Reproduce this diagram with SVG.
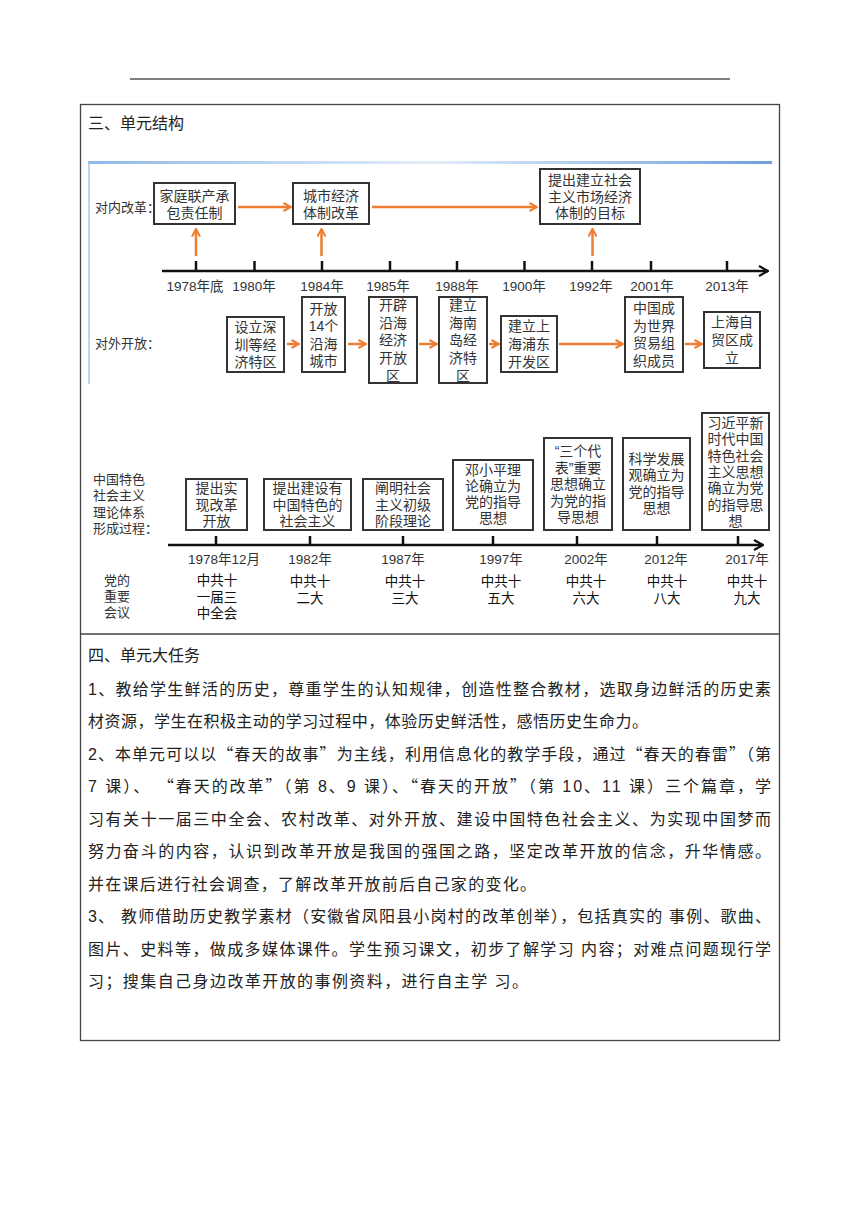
<svg xmlns="http://www.w3.org/2000/svg" width="860" height="1216" viewBox="0 0 860 1216">
<defs>
<marker id="oa" viewBox="0 0 10 10" refX="9" refY="5" markerWidth="10" markerHeight="10" markerUnits="userSpaceOnUse" orient="auto">
<path d="M1.5,1 L9,5 L1.5,9" fill="none" stroke="#ED7D31" stroke-width="2"/>
</marker>
<marker id="ka" viewBox="0 0 12 12" refX="11" refY="6" markerWidth="12" markerHeight="12" markerUnits="userSpaceOnUse" orient="auto">
<path d="M2,1 L11,6 L2,11" fill="none" stroke="#111" stroke-width="2.2"/>
</marker>
<linearGradient id="bl" x1="0" y1="0" x2="1" y2="0">
<stop offset="0" stop-color="#8fb8e8"/>
<stop offset="0.5" stop-color="#e3eefa"/>
<stop offset="1" stop-color="#6e9fdc"/>
</linearGradient>
<style>
.box{fill:#fff;stroke:#333;stroke-width:2}
.bt{font-family:"Liberation Sans","Noto Sans CJK SC",sans-serif;font-size:14px;fill:#333;text-anchor:middle}
.lb{font-family:"Liberation Sans","Noto Sans CJK SC",sans-serif;font-size:13px;fill:#333}
.yr{font-family:"Liberation Sans","Noto Sans CJK SC",sans-serif;font-size:13.5px;fill:#333;text-anchor:middle}
.mt{font-family:"Liberation Sans","Noto Sans CJK SC",sans-serif;font-size:13.5px;fill:#111;text-anchor:middle}
.oarr{stroke:#ED7D31;stroke-width:2.5;fill:none;marker-end:url(#oa)}
.axis{stroke:#111;stroke-width:2.5;fill:none}
.tick{stroke:#111;stroke-width:2.5}
.body{font-family:"Liberation Sans","Noto Sans CJK SC",sans-serif;font-size:16px;fill:#222}
.q{font-family:"Noto Sans CJK SC",sans-serif}
</style>
</defs>
<rect width="860" height="1216" fill="#fff"/>
<line x1="130" y1="79" x2="730" y2="79" stroke="#555" stroke-width="1.5"/>
<rect x="80.5" y="104.5" width="699" height="936" fill="none" stroke="#444" stroke-width="1.3"/>
<line x1="80.5" y1="634" x2="779.5" y2="634" stroke="#444" stroke-width="1.3"/>
<text x="88" y="129" class="body">三、单元结构</text>

<rect x="88" y="161" width="684" height="3" fill="url(#bl)"/>
<line x1="89" y1="162" x2="89" y2="384" stroke="#a9c6ec" stroke-width="1.5"/>

<text x="95" y="212" class="lb">对内改革：</text>
<text x="95" y="348" class="lb">对外开放：</text>

<g id="connectors">
<line x1="238" y1="207" x2="291" y2="207" class="oarr"/>
<line x1="372" y1="207" x2="537" y2="207" class="oarr"/>
<line x1="196" y1="256" x2="196" y2="229" class="oarr"/>
<line x1="321.5" y1="256" x2="321.5" y2="229" class="oarr"/>
<line x1="592.5" y1="256" x2="592.5" y2="229" class="oarr"/>
<line x1="287" y1="344" x2="299" y2="344" class="oarr"/>
<line x1="348" y1="344" x2="366" y2="344" class="oarr"/>
<line x1="419" y1="344" x2="437" y2="344" class="oarr"/>
<line x1="489" y1="344" x2="499" y2="344" class="oarr"/>
<line x1="559" y1="344" x2="623" y2="344" class="oarr"/>
<line x1="685" y1="344" x2="702" y2="344" class="oarr"/>
<line x1="162" y1="271" x2="768" y2="271" class="axis" marker-end="url(#ka)"/>
<g class="tick">
<line x1="196" y1="261" x2="196" y2="271"/><line x1="254.5" y1="261" x2="254.5" y2="271"/><line x1="322" y1="261" x2="322" y2="271"/><line x1="390" y1="261" x2="390" y2="271"/><line x1="457" y1="261" x2="457" y2="271"/><line x1="524.5" y1="261" x2="524.5" y2="271"/><line x1="592" y1="261" x2="592" y2="271"/><line x1="651" y1="261" x2="651" y2="271"/><line x1="727" y1="261" x2="727" y2="271"/>
</g>
<line x1="168" y1="545" x2="763" y2="545" class="axis" marker-end="url(#ka)"/>
<g class="tick">
<line x1="216" y1="536" x2="216" y2="545"/><line x1="310" y1="536" x2="310" y2="545"/><line x1="403" y1="536" x2="403" y2="545"/><line x1="493" y1="536" x2="493" y2="545"/><line x1="577" y1="536" x2="577" y2="545"/><line x1="657" y1="536" x2="657" y2="545"/><line x1="738" y1="536" x2="738" y2="545"/>
</g>
</g>

<g id="years1" class="yr">
<text x="195" y="291">1978年底</text><text x="254" y="291">1980年</text><text x="322" y="291">1984年</text><text x="388" y="291">1985年</text><text x="457" y="291">1988年</text><text x="524" y="291">1900年</text><text x="591" y="291">1992年</text><text x="652" y="291">2001年</text><text x="727" y="291">2013年</text>
</g>

<g id="n1"><rect x="154" y="183" width="81" height="41" class="box"/><text class="bt" x="194.5" y="201">家庭联产承<tspan x="194.5" dy="17">包责任制</tspan></text></g>
<g id="n2"><rect x="293" y="183" width="76" height="41" class="box"/><text class="bt" x="331" y="201">城市经济<tspan x="331" dy="17">体制改革</tspan></text></g>
<g id="n3"><rect x="540" y="169" width="100" height="55" class="box"/><text class="bt" x="590" y="185">提出建立社会<tspan x="590" dy="16.5">主义市场经济</tspan><tspan x="590" dy="16.5">体制的目标</tspan></text></g>

<g id="n4"><rect x="227" y="317" width="57" height="55" class="box"/><text class="bt" x="255.5" y="332">设立深<tspan x="255.5" dy="17.5">圳等经</tspan><tspan x="255.5" dy="17.5">济特区</tspan></text></g>
<g id="n5"><rect x="302" y="297" width="43" height="75" class="box"/><text class="bt" x="323.5" y="314">开放<tspan x="323.5" dy="17.3">14个</tspan><tspan x="323.5" dy="17.3">沿海</tspan><tspan x="323.5" dy="17.3">城市</tspan></text></g>
<g id="n6"><rect x="369" y="297" width="48" height="86" class="box"/><text class="bt" x="393" y="310">开辟<tspan x="393" dy="17.7">沿海</tspan><tspan x="393" dy="17.7">经济</tspan><tspan x="393" dy="17.7">开放</tspan><tspan x="393" dy="17.7">区</tspan></text></g>
<g id="n7"><rect x="439" y="297" width="48" height="86" class="box"/><text class="bt" x="463" y="310">建立<tspan x="463" dy="17.7">海南</tspan><tspan x="463" dy="17.7">岛经</tspan><tspan x="463" dy="17.7">济特</tspan><tspan x="463" dy="17.7">区</tspan></text></g>
<g id="n8"><rect x="501" y="316" width="56" height="56" class="box"/><text class="bt" x="529" y="331">建立上<tspan x="529" dy="18">海浦东</tspan><tspan x="529" dy="18">开发区</tspan></text></g>
<g id="n9"><rect x="625" y="297" width="58" height="75" class="box"/><text class="bt" x="654" y="313">中国成<tspan x="654" dy="17.7">为世界</tspan><tspan x="654" dy="17.7">贸易组</tspan><tspan x="654" dy="17.7">织成员</tspan></text></g>
<g id="n10"><rect x="704" y="312" width="56" height="56" class="box"/><text class="bt" x="732" y="327">上海自<tspan x="732" dy="18">贸区成</tspan><tspan x="732" dy="18">立</tspan></text></g>

<g id="labels2" class="lb">
<text x="93" y="484">中国特色<tspan x="93" dy="16.3">社会主义</tspan><tspan x="93" dy="16.3">理论体系</tspan><tspan x="93" dy="16.3">形成过程：</tspan></text>
<text x="104" y="585">党的<tspan x="104" dy="16">重要</tspan><tspan x="104" dy="16">会议</tspan></text>
</g>

<g id="m1"><rect x="186" y="479" width="61" height="51" class="box"/><text class="bt" x="216.5" y="493">提出实<tspan x="216.5" dy="16.5">现改革</tspan><tspan x="216.5" dy="16.5">开放</tspan></text></g>
<g id="m2"><rect x="264" y="479" width="87" height="51" class="box"/><text class="bt" x="307.5" y="493">提出建设有<tspan x="307.5" dy="16.5">中国特色的</tspan><tspan x="307.5" dy="16.5">社会主义</tspan></text></g>
<g id="m3"><rect x="363" y="479" width="80" height="51" class="box"/><text class="bt" x="403" y="493">阐明社会<tspan x="403" dy="16.5">主义初级</tspan><tspan x="403" dy="16.5">阶段理论</tspan></text></g>
<g id="m4"><rect x="453" y="460" width="80" height="70" class="box"/><text class="bt" x="493" y="475">邓小平理<tspan x="493" dy="16">论确立为</tspan><tspan x="493" dy="16">党的指导</tspan><tspan x="493" dy="16">思想</tspan></text></g>
<g id="m5"><rect x="544" y="438" width="68" height="92" class="box"/><text class="bt" x="578" y="456">“三个代<tspan x="578" dy="16.5">表”重要</tspan><tspan x="578" dy="16.5">思想确立</tspan><tspan x="578" dy="16.5">为党的指</tspan><tspan x="578" dy="16.5">导思想</tspan></text></g>
<g id="m6"><rect x="623" y="438" width="67" height="92" class="box"/><text class="bt" x="656.5" y="464">科学发展<tspan x="656.5" dy="16.3">观确立为</tspan><tspan x="656.5" dy="16.3">党的指导</tspan><tspan x="656.5" dy="16.3">思想</tspan></text></g>
<g id="m7"><rect x="702" y="413" width="67" height="117" class="box"/><text class="bt" x="735.5" y="428">习近平新<tspan x="735.5" dy="16.3">时代中国</tspan><tspan x="735.5" dy="16.3">特色社会</tspan><tspan x="735.5" dy="16.3">主义思想</tspan><tspan x="735.5" dy="16.3">确立为党</tspan><tspan x="735.5" dy="16.3">的指导思</tspan><tspan x="735.5" dy="16.3">想</tspan></text></g>

<g id="years2" class="yr">
<text x="224" y="564">1978年12月</text><text x="310" y="564">1982年</text><text x="403" y="564">1987年</text><text x="501" y="564">1997年</text><text x="586" y="564">2002年</text><text x="666" y="564">2012年</text><text x="747" y="564">2017年</text>
</g>
<g id="meetings" class="mt">
<text x="217" y="585">中共十<tspan x="217" dy="16.5">一届三</tspan><tspan x="217" dy="16.5">中全会</tspan></text>
<text x="310" y="586">中共十<tspan x="310" dy="17">二大</tspan></text>
<text x="405" y="586">中共十<tspan x="405" dy="17">三大</tspan></text>
<text x="501" y="586">中共十<tspan x="501" dy="17">五大</tspan></text>
<text x="586" y="586">中共十<tspan x="586" dy="17">六大</tspan></text>
<text x="667" y="586">中共十<tspan x="667" dy="17">八大</tspan></text>
<text x="747" y="586">中共十<tspan x="747" dy="17">九大</tspan></text>
</g>

<g class="body">
<text x="88" y="661">四、单元大任务</text>
<text x="88" y="695" textLength="683" lengthAdjust="spacing">1、教给学生鲜活的历史，尊重学生的认知规律，创造性整合教材，选取身边鲜活的历史素</text>
<text x="88" y="727" textLength="560" lengthAdjust="spacing">材资源，学生在积极主动的学习过程中，体验历史鲜活性，感悟历史生命力。</text>
<text x="88" y="760" textLength="683" lengthAdjust="spacing">2、本单元可以以<tspan class="q">“</tspan>春天的故事<tspan class="q">”</tspan>为主线，利用信息化的教学手段，通过<tspan class="q">“</tspan>春天的春雷<tspan class="q">”</tspan>（第</text>
<text x="88" y="792" textLength="683" lengthAdjust="spacing">7 课）、 <tspan class="q">“</tspan>春天的改革<tspan class="q">”</tspan>（第 8、9 课）、<tspan class="q">“</tspan>春天的开放<tspan class="q">”</tspan>（第 10、11 课）三个篇章，学</text>
<text x="88" y="825" textLength="683" lengthAdjust="spacing">习有关十一届三中全会、农村改革、对外开放、建设中国特色社会主义、为实现中国梦而</text>
<text x="88" y="857" textLength="683" lengthAdjust="spacing">努力奋斗的内容，认识到改革开放是我国的强国之路，坚定改革开放的信念，升华情感。</text>
<text x="88" y="890" textLength="448" lengthAdjust="spacing">并在课后进行社会调查，了解改革开放前后自己家的变化。</text>
<text x="88" y="922" textLength="683" lengthAdjust="spacing">3、 教师借助历史教学素材（安徽省凤阳县小岗村的改革创举），包括真实的 事例、歌曲、</text>
<text x="88" y="955" textLength="683" lengthAdjust="spacing">图片、史料等，做成多媒体课件。学生预习课文，初步了解学习 内容；对难点问题现行学</text>
<text x="88" y="987" textLength="440" lengthAdjust="spacing">习；搜集自己身边改革开放的事例资料，进行自主学 习。</text>
</g>
</svg>
